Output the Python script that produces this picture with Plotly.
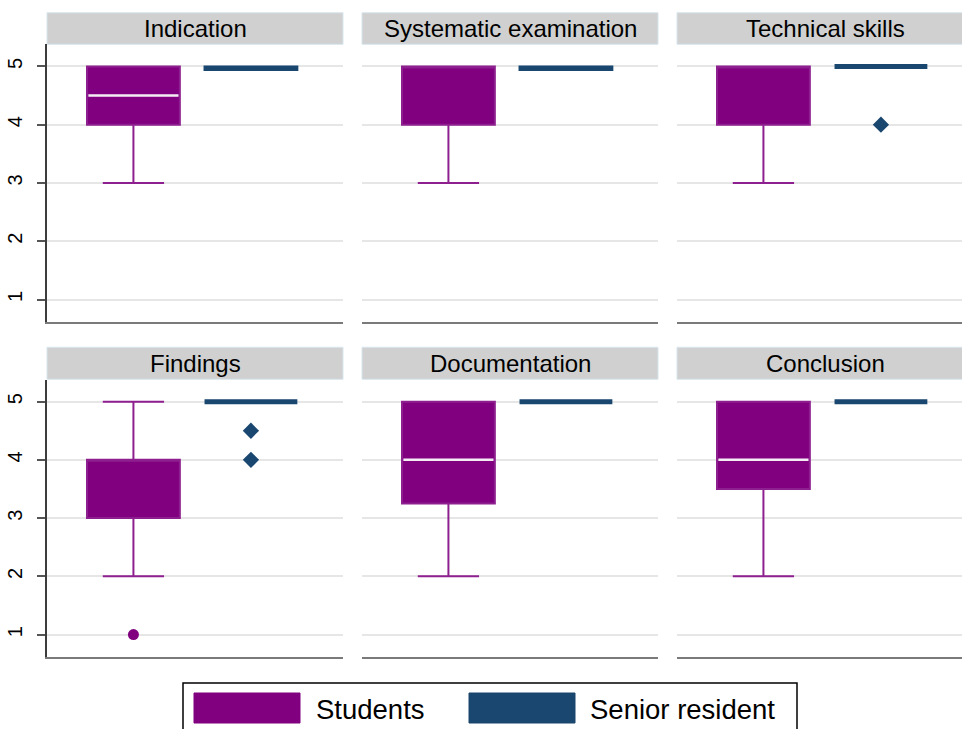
import plotly.graph_objects as go

# ---------------- data ----------------
panels = ["Indication", "Systematic examination", "Technical skills",
          "Findings", "Documentation", "Conclusion"]
groups = ["Students", "Senior resident"]

stu_q1 = [4, 4, 4, 3, 3.25, 3.5]
stu_med = [4.5, 5, 5, 4, 4, 4]
stu_q3 = [5, 5, 5, 4, 5, 5]
stu_lo = [3, 3, 3, 2, 2, 2]
stu_hi = [5, 5, 5, 5, 5, 5]
stu_out = [[], [], [], [1], [], []]

sen_q1 = [4.94, 4.94, 5, 5, 5, 5]
sen_med = [5, 5, 5, 5, 5, 5]
sen_q3 = [5, 5, 5, 5, 5, 5]
sen_lo = [4.94, 4.94, 5, 5, 5, 5]
sen_hi = [5, 5, 5, 5, 5, 5]
sen_out = [[], [], [4], [4.5, 4], [], []]

y_ticks = [1, 2, 3, 4, 5]

# ---------------- style ----------------
W, H = 962, 729
PURPLE = "#800080"
PURPLE_LINE = "#8e1f8e"
NAVY = "#1a476f"
FONT = "Liberation Sans, Arial, Helvetica, sans-serif"

col_px = [(47, 343), (362, 658), (677, 962)]
row_px = [(44.3, 321.7), (379.5, 656.7)]
head_px = [(12.7, 44.3), (347.3, 379.3)]
full_w = 296.0
x_left = -0.7355
x_span = 2.519
box_w = 0.79

def px2x(p):
    return p / W

def px2y(p):
    return 1 - p / H

fig = go.Figure()
layout = dict(
    width=W, height=H, margin=dict(l=0, r=0, t=0, b=0),
    paper_bgcolor="white", plot_bgcolor="white",
    font=dict(family=FONT, color="black"),
    showlegend=False,
)
shapes = []
annotations = []

for i, name in enumerate(panels):
    r, c = divmod(i, 3)
    ax = "" if i == 0 else str(i + 1)
    xa, ya = "x" + ax, "y" + ax
    x0p, x1p = col_px[c]
    y0p, y1p = row_px[r]
    frac = (x1p - x0p) / full_w
    layout["xaxis" + ax] = dict(
        domain=[px2x(x0p), min(1.0, px2x(x1p))], anchor=ya,
        range=[x_left, x_left + x_span * frac],
        showgrid=False, zeroline=False, showticklabels=False, ticks="",
        showline=True, linecolor="#7a7a7a", linewidth=2, fixedrange=True,
    )
    left = (c == 0)
    layout["yaxis" + ax] = dict(
        domain=[px2y(y1p), px2y(y0p)], anchor=xa,
        range=[0.62, 5.38], tickvals=y_ticks,
        showgrid=True, gridcolor="#e6e6e6", gridwidth=1.5, zeroline=False,
        showline=left, linecolor="#3c3c3c", linewidth=1.5,
        ticks="outside" if left else "", ticklen=8, tickwidth=1.5, tickcolor="#555555",
        showticklabels=left, tickangle=-90, ticklabelstandoff=7,
        tickfont=dict(size=20, family=FONT, color="black"),
    )

    # Students box
    fig.add_trace(go.Box(
        x=[0], q1=[stu_q1[i]], median=[stu_med[i]], q3=[stu_q3[i]],
        lowerfence=[stu_lo[i]], upperfence=[stu_hi[i]],
        width=box_w, whiskerwidth=0.66, boxpoints=False,
        fillcolor=PURPLE, line=dict(color=PURPLE_LINE, width=2),
        xaxis=xa, yaxis=ya, name=groups[0], hoverinfo="skip",
    ))
    # white median line for interior medians
    if stu_q1[i] < stu_med[i] < stu_q3[i]:
        hw = box_w / 2 * 0.97
        fig.add_trace(go.Scatter(
            x=[0 - hw, 0 + hw], y=[stu_med[i], stu_med[i]], mode="lines",
            line=dict(color="#f3ecf3", width=2.5), xaxis=xa, yaxis=ya,
            hoverinfo="skip",
        ))
    if stu_out[i]:
        fig.add_trace(go.Scatter(
            x=[0] * len(stu_out[i]), y=stu_out[i], mode="markers",
            marker=dict(color=PURPLE, size=11, symbol="circle"),
            xaxis=xa, yaxis=ya, hoverinfo="skip",
        ))

    # Senior resident box
    flat = (sen_q3[i] - sen_q1[i]) == 0
    fig.add_trace(go.Box(
        x=[1], q1=[sen_q1[i]], median=[sen_med[i]], q3=[sen_q3[i]],
        lowerfence=[sen_lo[i]], upperfence=[sen_hi[i]],
        width=box_w, whiskerwidth=0.66, boxpoints=False,
        fillcolor=NAVY, line=dict(color=NAVY, width=5 if flat else 2),
        xaxis=xa, yaxis=ya, name=groups[1], hoverinfo="skip",
    ))
    if sen_out[i]:
        fig.add_trace(go.Scatter(
            x=[1] * len(sen_out[i]), y=sen_out[i], mode="markers",
            marker=dict(color=NAVY, size=12.5, symbol="diamond"),
            xaxis=xa, yaxis=ya, hoverinfo="skip",
        ))

    # strip header
    hy0, hy1 = head_px[r]
    shapes.append(dict(
        type="rect", xref="paper", yref="paper",
        x0=px2x(x0p), x1=px2x(x0p + full_w), y0=px2y(hy1), y1=px2y(hy0),
        fillcolor="#d0d0d0", line=dict(color="#d8e6ee", width=1), layer="below",
    ))
    annotations.append(dict(
        xref="paper", yref="paper", x=px2x(x0p + full_w / 2),
        y=px2y((hy0 + hy1) / 2), text=name, showarrow=False,
        xanchor="center", yanchor="middle",
        font=dict(size=24, family=FONT, color="black"),
    ))

# legend (drawn)
shapes.append(dict(type="rect", xref="paper", yref="paper",
                   x0=px2x(183), x1=px2x(797), y0=px2y(745), y1=px2y(683),
                   fillcolor="white", line=dict(color="black", width=1.5)))
leg_items = [(groups[0], PURPLE, 194, 314), (groups[1], NAVY, 469, 588)]
for label, color, sx, tx in leg_items:
    shapes.append(dict(type="rect", xref="paper", yref="paper",
                       x0=px2x(sx), x1=px2x(sx + 106), y0=px2y(723), y1=px2y(693),
                       fillcolor=color, line=dict(color=color, width=1)))
    annotations.append(dict(xref="paper", yref="paper", x=px2x(tx), y=px2y(709),
                            text=label, showarrow=False, xanchor="left",
                            yanchor="middle",
                            font=dict(size=27.5, family=FONT, color="black")))

layout["shapes"] = shapes
layout["annotations"] = annotations
fig.update_layout(**layout)
fig.write_html("out.html", config={"displayModeBar": False},
               post_script="document.body.style.margin='0';document.body.style.overflow='hidden';")
